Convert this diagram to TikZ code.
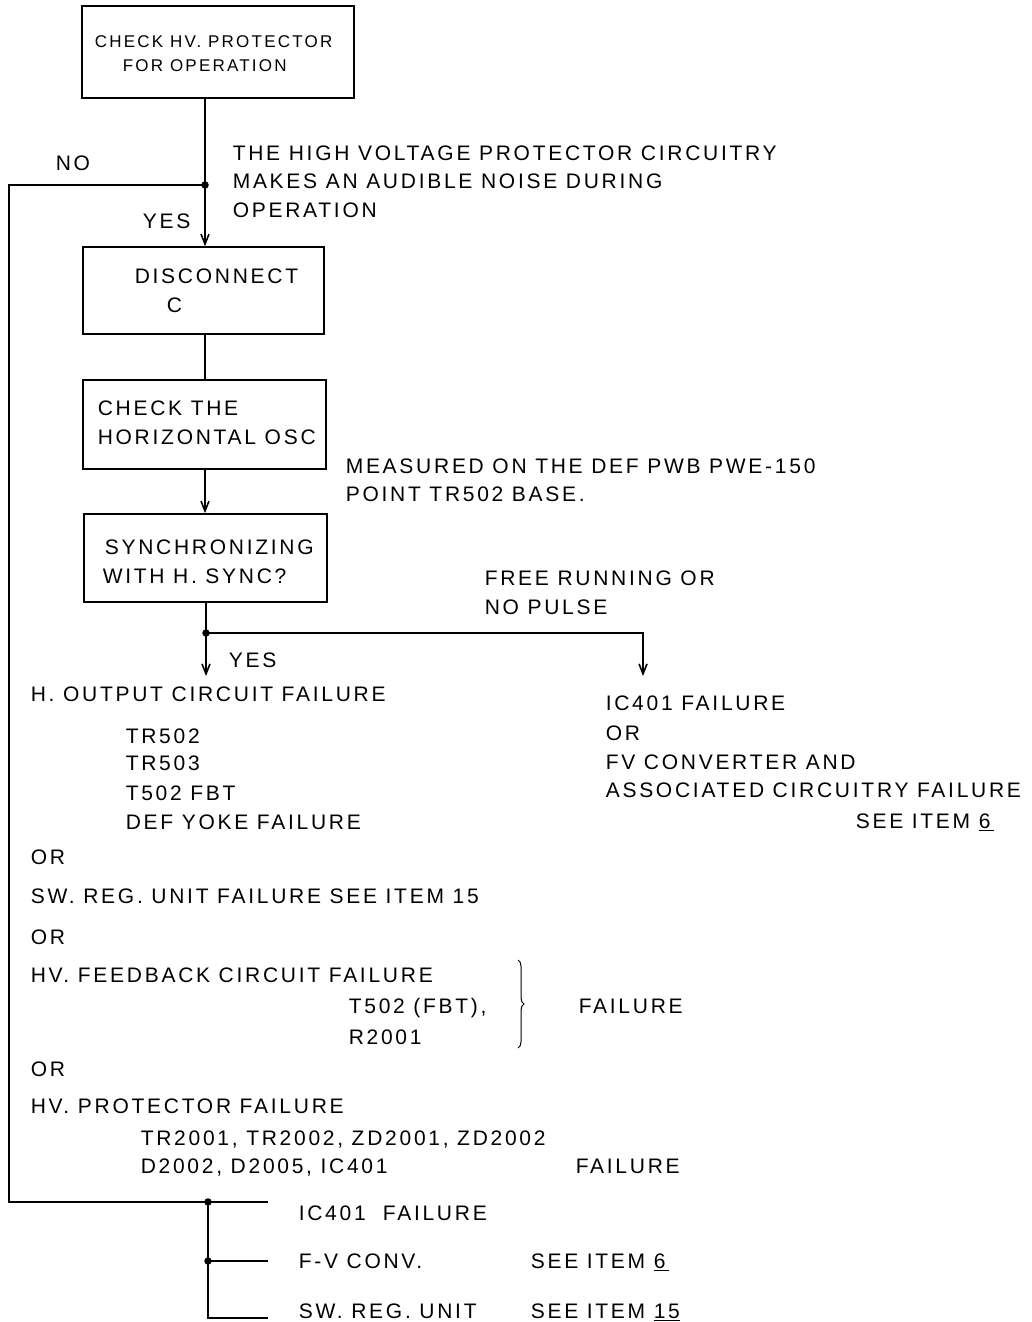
\documentclass[tikz,border=0pt]{standalone}
\usepackage{fontspec}
\setmainfont{Liberation Sans}[LetterSpace=13]
\usetikzlibrary{arrows.meta,decorations.pathreplacing}
\begin{document}
\begin{tikzpicture}[x=1pt,y=-1pt, font=\fontsize{21}{25}\selectfont,
  line width=1.6pt,
  box/.style={draw, line width=1.6pt, inner sep=0pt},
  txt/.style={anchor=west, inner sep=0pt, text height=15pt, text depth=0pt},
  arr/.style={-{Straight Barb[length=10pt,width=8pt,line width=1.6pt]}},
  dot/.style={circle, fill, inner sep=0pt, minimum size=7.5pt}]
\useasboundingbox (0,0) rectangle (1032,1322);
% boxes
\node[box, minimum width=272pt, minimum height=92pt] (b1) at (218,52) {};
\node[box, minimum width=241pt, minimum height=87pt] (b2) at (203.5,290.5) {};
\node[box, minimum width=243pt, minimum height=89pt] (b3) at (204.5,424.5) {};
\node[box, minimum width=243pt, minimum height=88pt] (b4) at (205.5,558) {};
% box texts
\node[txt, font=\fontsize{17}{21}\selectfont, text height=12.5pt] (t1a) at (94,41) {CHECK HV. PROTECTOR};
\node[txt, font=\fontsize{17}{21}\selectfont, text height=12.5pt] (t1b) at (122,65) {FOR OPERATION};
\node[txt] (t2a) at (134,276) {DISCONNECT};
\node[txt] (t2b) at (166,305) {C};
\node[txt] (t3a) at (97,408) {CHECK THE};
\node[txt] (t3b) at (97,437) {HORIZONTAL OSC};
\node[txt] (t4a) at (104,547) {SYNCHRONIZING};
\node[txt] (t4b) at (102,576) {WITH H. SYNC?};
% junctions and coordinates
\coordinate (j1) at (205,185);
\coordinate (lt) at (9,185);
\coordinate (lb) at (9,1202);
\coordinate (j3) at (208,1202);
\coordinate (j4) at (208,1261);
\coordinate (j5) at (208,1318);
\coordinate (e1) at (268,1202);
\coordinate (e2) at (268,1261);
\coordinate (e3) at (268,1318);
\coordinate (j2) at (206,633);
\coordinate (y1) at (206,676);
\coordinate (y2) at (643,676);
% connectors
\draw (b1.south -| j1) -- (j1);
\draw[arr] (j1) -- (b2.north -| j1);
\draw (j1) -- (lt) -- (lb) -- (j3) -- (e1);
\draw (j3) -- (j5) -- (e3);
\draw (j4) -- (e2);
\draw (b2.south -| j1) -- (b3.north -| j1);
\draw[arr] (b3.south -| j1) -- (b4.north -| j1);
\draw (b4.south -| j2) -- (j2);
\draw[arr] (j2) -- (y1);
\draw[arr] (j2) -| (y2);
\node[dot] (d1) at (j1) {};
\node[dot] (d2) at (j2) {};
\node[dot] (d3) at (j3) {};
\node[dot] (d4) at (j4) {};
% labels
\node[txt] (no) at (55,163) {NO};
\node[txt] (yes1) at (142,221) {YES};
\node[txt] (hv1) at (232,153) {THE HIGH VOLTAGE PROTECTOR CIRCUITRY};
\node[txt] (hv2) at (232,181) {MAKES AN AUDIBLE NOISE DURING};
\node[txt] (hv3) at (232,210) {OPERATION};
\node[txt] (m1) at (345,466) {MEASURED ON THE DEF PWB PWE-150};
\node[txt] (m2) at (345,494) {POINT TR502 BASE.};
\node[txt] (f1) at (484,578) {FREE RUNNING OR};
\node[txt] (f2) at (484,607) {NO PULSE};
\node[txt] (yes2) at (228,660) {YES};
\node[txt] (h1) at (30,694) {H. OUTPUT CIRCUIT FAILURE};
\node[txt] (h2) at (125,736) {TR502};
\node[txt] (h3) at (125,763) {TR503};
\node[txt] (h4) at (125,793) {T502 FBT};
\node[txt] (h5) at (125,822) {DEF YOKE FAILURE};
\node[txt] (or1) at (30,857) {OR};
\node[txt] (sw) at (30,896) {SW. REG. UNIT FAILURE SEE ITEM 15};
\node[txt] (or2) at (30,937) {OR};
\node[txt] (fb1) at (30,975) {HV. FEEDBACK CIRCUIT FAILURE};
\node[txt] (fb2) at (348,1006) {T502 (FBT),};
\node[txt] (fb3) at (348,1037) {R2001};
\node[txt] (fb4) at (578,1006) {FAILURE};
\node[txt] (or3) at (30,1069) {OR};
\node[txt] (p1) at (30,1106) {HV. PROTECTOR FAILURE};
\node[txt] (p2) at (140,1138) {TR2001, TR2002, ZD2001, ZD2002};
\node[txt] (p3) at (140,1166) {D2002, D2005, IC401};
\node[txt] (p4) at (575,1166) {FAILURE};
\node[txt] (r1) at (605,703) {IC401 FAILURE};
\node[txt] (r2) at (605,733) {OR};
\node[txt] (r3) at (605,762) {FV CONVERTER AND};
\node[txt] (r4) at (605,790) {ASSOCIATED CIRCUITRY FAILURE};
\node[txt] (r5) at (855,821) {SEE ITEM \underline{6\,}};
\node[txt] (k1) at (298,1213) {IC401\ \ FAILURE};
\node[txt] (k2) at (298,1261) {F-V CONV.};
\node[txt] (k3) at (530,1261) {SEE ITEM \underline{6\,}};
\node[txt] (k4) at (298,1311) {SW. REG. UNIT};
\node[txt] (k5) at (530,1311) {SEE ITEM \underline{15}};
% brace
\coordinate (br1) at (518,960);
\coordinate (br2) at (518,1048);
\draw[decorate, decoration={brace, amplitude=6pt}, line width=1pt] (br1) -- (br2);
\end{tikzpicture}
\end{document}
